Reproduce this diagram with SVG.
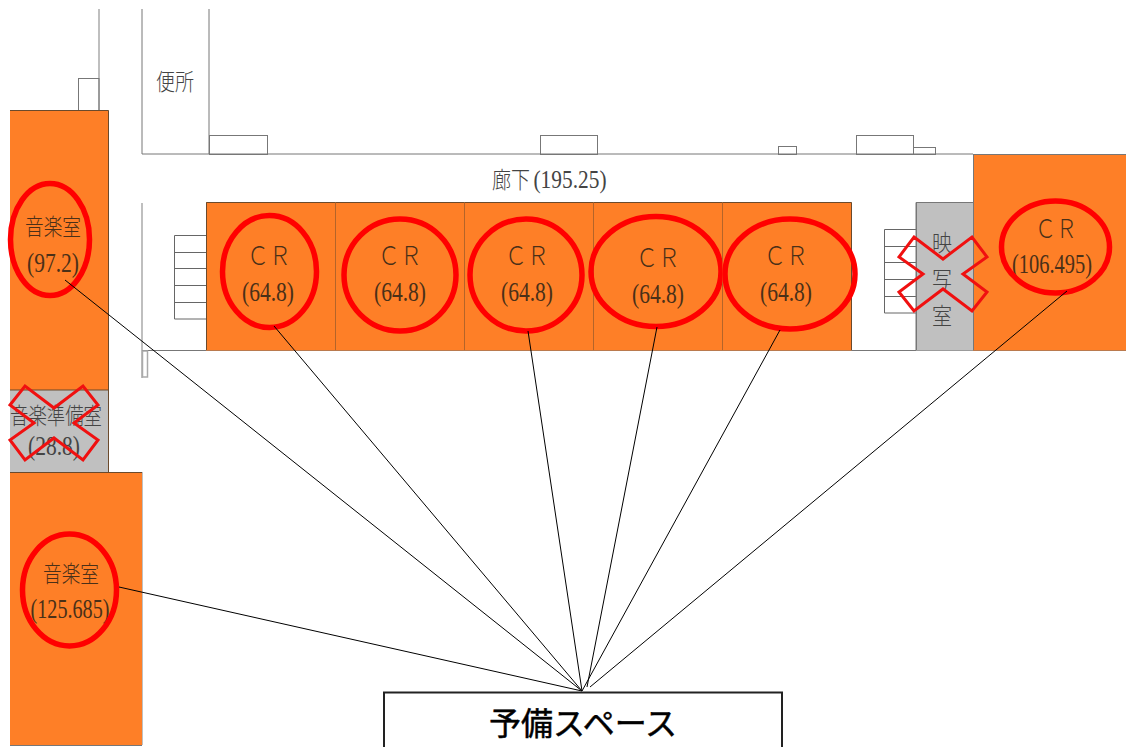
<svg xmlns="http://www.w3.org/2000/svg" width="1126" height="747" viewBox="0 0 1126 747">
<style>
.room{fill:#fe7f27;stroke:none}
.edge{fill:none;stroke:#6b4a2c;stroke-width:1}
.gray{fill:#c0c0c0;stroke:none}
.wall{fill:none;stroke:#777;stroke-width:1}
.wl{fill:none;stroke:#aaa;stroke-width:1.500}
.stair{fill:none;stroke:#666;stroke-width:1}
.ring{fill:none;stroke:#f00;stroke-width:5.500}
.cross{fill:none;stroke:#f01010;stroke-width:3}
.conn{stroke:#000;stroke-width:1;fill:none}
text{font-family:"Noto Sans CJK JP",sans-serif;font-weight:300;fill:#4a3018;text-anchor:middle}
.tall{font-size:23px}
.cr{font-size:26px}
.num{font-family:"Liberation Serif",serif;font-size:27px;font-weight:400}
.dk{fill:#444}
</style>
<rect width="1126" height="747" fill="#fff"/>
<g id="walls">
<path class="wl" d="M99 9V110M142 203V378"/>
<path class="wall" d="M142 9V154H973M209 9V154"/>
<rect class="wall" x="78.500" y="78.500" width="20.500" height="32"/>
<rect class="wall" x="209.500" y="135.500" width="58" height="19"/>
<rect class="wall" x="540.500" y="135.500" width="57" height="19"/>
<rect class="wall" x="778.500" y="146.500" width="18" height="8"/>
<rect class="wall" x="856.500" y="135.500" width="57" height="19"/>
<rect class="wall" x="913.500" y="147.500" width="22" height="7"/>
<path class="wall" d="M142 350.500H1126"/>
<rect class="wl" x="142.500" y="351" width="5" height="26"/>
<path class="wl" d="M142 472V745"/>
<path class="stair" d="M174.500 235.500H206M174.500 252.500H206M174.500 268.500H206M174.500 285.500H206M174.500 302.500H206M174.500 319H206M174.500 235.500V319"/>
<path class="stair" d="M884.500 229.500H916M884.500 246.500H916M884.500 262.500H916M884.500 279.500H916M884.500 296.500H916M884.500 313H916M884.500 229.500V313"/>
</g>
<g id="toilet"><text class="tall dk" x="175" y="90" textLength="38" lengthAdjust="spacingAndGlyphs">便所</text></g>
<g id="corridor"><text class="tall dk" x="511" y="188" textLength="38" lengthAdjust="spacingAndGlyphs">廊下</text><text class="num dk" x="570" y="188" style="font-size:25px" textLength="73" lengthAdjust="spacingAndGlyphs">(195.25)</text></g>
<g id="music1"><rect class="room" x="10" y="110" width="98.500" height="280"/><path class="edge" d="M10 110.500H108.500V390"/><text class="tall" x="53" y="235" textLength="56" lengthAdjust="spacingAndGlyphs">音楽室</text><text class="num" x="53" y="272" textLength="52" lengthAdjust="spacingAndGlyphs">(97.2)</text><ellipse class="ring" cx="50" cy="239.500" rx="39.500" ry="56"/></g>
<g id="prep"><rect class="gray" x="10" y="390" width="98.500" height="82"/><path class="edge" d="M10 390H108.500V472"/><text class="tall dk" x="56" y="424" textLength="92" lengthAdjust="spacingAndGlyphs">音楽準備室</text><text class="num dk" x="54" y="455" textLength="52" lengthAdjust="spacingAndGlyphs">(28.8)</text><path class="cross" d="M10 405L25 386L54 408L83 386L98 405L74 423L98 440L83 460L54 438L25 460L10 440L34 423Z"/></g>
<g id="music2"><rect class="room" x="10" y="472" width="132" height="273"/><path class="edge" d="M10 472.500H142"/><path class="wall" d="M10 745.500H142"/><text class="tall" x="71" y="582" textLength="56" lengthAdjust="spacingAndGlyphs">音楽室</text><text class="num" x="70" y="618" textLength="79" lengthAdjust="spacingAndGlyphs">(125.685)</text><ellipse class="ring" cx="69.500" cy="590" rx="47" ry="56"/></g>
<g id="cr1"><rect class="room" x="206" y="202" width="129.500" height="148.500"/><path class="edge" d="M206.500 350V202.500H335.500V350"/><text class="cr" x="269" y="265" textLength="44" lengthAdjust="spacingAndGlyphs">ＣＲ</text><text class="num" x="268" y="301" textLength="52" lengthAdjust="spacingAndGlyphs">(64.8)</text><ellipse class="ring" cx="269.500" cy="271.500" rx="47" ry="56"/></g>
<g id="cr2"><rect class="room" x="335.500" y="202" width="129" height="148.500"/><path class="edge" d="M335.500 202.500H464.500V350"/><text class="cr" x="400" y="265" textLength="44" lengthAdjust="spacingAndGlyphs">ＣＲ</text><text class="num" x="400" y="301" textLength="52" lengthAdjust="spacingAndGlyphs">(64.8)</text><ellipse class="ring" cx="400" cy="275" rx="56" ry="56"/></g>
<g id="cr3"><rect class="room" x="464.500" y="202" width="129" height="148.500"/><path class="edge" d="M464.500 202.500H593.500V350"/><text class="cr" x="527" y="265" textLength="44" lengthAdjust="spacingAndGlyphs">ＣＲ</text><text class="num" x="527" y="301" textLength="52" lengthAdjust="spacingAndGlyphs">(64.8)</text><ellipse class="ring" cx="526" cy="275" rx="56" ry="56"/></g>
<g id="cr4"><rect class="room" x="593.500" y="202" width="129" height="148.500"/><path class="edge" d="M593.500 202.500H722.500V350"/><text class="cr" x="658" y="267" textLength="44" lengthAdjust="spacingAndGlyphs">ＣＲ</text><text class="num" x="658" y="303" textLength="52" lengthAdjust="spacingAndGlyphs">(64.8)</text><ellipse class="ring" cx="656" cy="271.500" rx="65" ry="55"/></g>
<g id="cr5"><rect class="room" x="722.500" y="202" width="129" height="148.500"/><path class="edge" d="M722.500 202.500H851.500V350"/><text class="cr" x="786" y="265" textLength="44" lengthAdjust="spacingAndGlyphs">ＣＲ</text><text class="num" x="786" y="301" textLength="52" lengthAdjust="spacingAndGlyphs">(64.8)</text><ellipse class="ring" cx="790" cy="274" rx="65" ry="55"/></g>
<g id="cr6"><rect class="room" x="973" y="154" width="153" height="196.500"/><path class="wall" d="M973 154.500H1126M973.500 154V350"/><text class="cr" x="1056" y="238" textLength="42" lengthAdjust="spacingAndGlyphs">ＣＲ</text><text class="num" x="1052" y="273" textLength="80" lengthAdjust="spacingAndGlyphs">(106.495)</text><ellipse class="ring" cx="1055.500" cy="247" rx="54" ry="46"/></g>
<g id="eisha"><rect class="gray" x="916" y="202" width="57" height="148.500"/><path class="wall" d="M916 350V202.500H973M916.500 202V350"/><text class="tall dk" x="942" y="251" textLength="20" lengthAdjust="spacingAndGlyphs">映</text><text class="tall dk" x="942" y="288" textLength="20" lengthAdjust="spacingAndGlyphs">写</text><text class="tall dk" x="942" y="324" textLength="20" lengthAdjust="spacingAndGlyphs">室</text><path class="cross" d="M914 237L943 259L972 237L987 257L963 274L987 292L972 311L943 289L914 311L899 292L923 274L899 257Z"/></g>
<g id="connectors">
<path class="conn" d="M65 280L582 691M119 587L582 691M274 326L582 691M528 331L582 691M657 327L587 687M780 330L582 691M1067 291L590 687"/>
</g>
<g id="spare"><rect x="384" y="692.500" width="398" height="60" fill="#fff" stroke="#222" stroke-width="2"/><text x="583" y="735" style="font-size:32px;font-weight:400;fill:#000;stroke:#000;stroke-width:.5px">予備スペース</text></g>
</svg>
